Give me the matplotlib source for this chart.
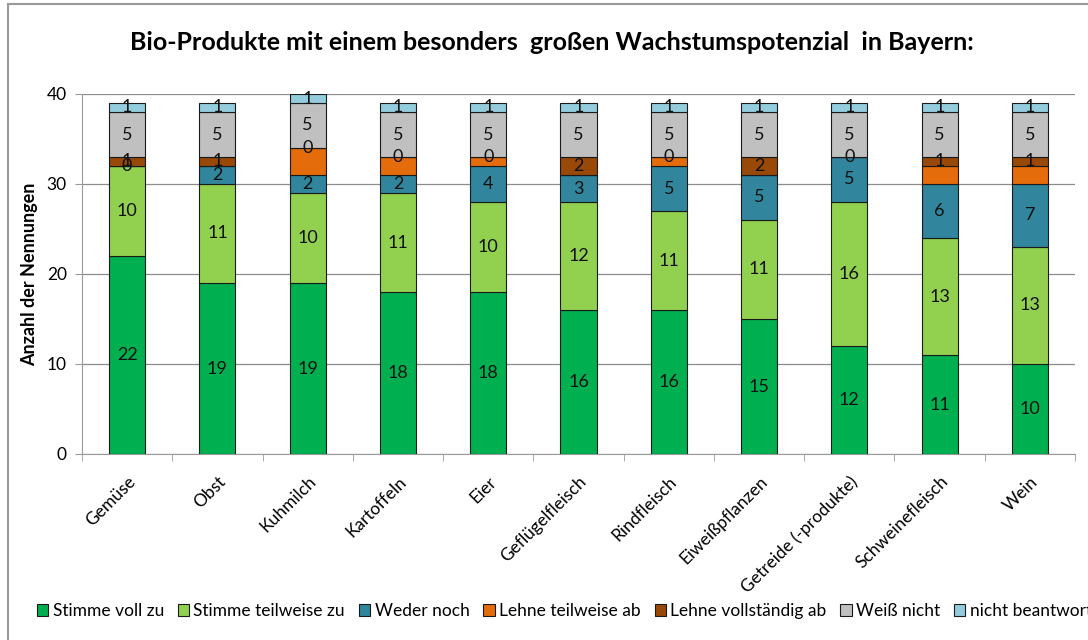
import matplotlib
matplotlib.use("Agg")
import matplotlib.pyplot as plt
from matplotlib.patches import Rectangle
import numpy as np

plt.rcParams['font.family'] = ['Lato', 'DejaVu Sans']

# Data
products = ["Gemüse", "Obst", "Kuhmilch", "Kartoffeln", "Eier", "Geflügelfleisch",
            "Rindfleisch", "Eiweißpflanzen", "Getreide (-produkte)", "Schweinefleisch", "Wein"]
series_names = ["Stimme voll zu", "Stimme teilweise zu", "Weder noch", "Lehne teilweise ab",
                "Lehne vollständig ab", "Weiß nicht", "nicht beantworte"]
voll_zu = [22, 19, 19, 18, 18, 16, 16, 15, 12, 11, 10]
teilweise_zu = [10, 11, 10, 11, 10, 12, 11, 11, 16, 13, 13]
weder_noch = [0, 2, 2, 2, 4, 3, 5, 5, 5, 6, 7]
teilweise_ab = [0, 0, 3, 2, 1, 0, 1, 0, 0, 2, 2]
vollstaendig_ab = [1, 1, 0, 0, 0, 2, 0, 2, 0, 1, 1]
weiss_nicht = [5, 5, 5, 5, 5, 5, 5, 5, 5, 5, 5]
nicht_beantw = [1, 1, 1, 1, 1, 1, 1, 1, 1, 1, 1]

colors = ["#00B050", "#92D050", "#31859C", "#E46C0A", "#984807", "#C0C0C0", "#93CDDD"]
show_labels = [True, True, True, False, True, True, True]

all_series = [voll_zu, teilweise_zu, weder_noch, teilweise_ab, vollstaendig_ab, weiss_nicht, nicht_beantw]

fig = plt.figure(figsize=(10.88, 6.4), dpi=100)
ax = fig.add_axes([82 / 1088, 1 - 454 / 640, (1075 - 82) / 1088, 360 / 640])

x = np.arange(len(products))
bottom = np.zeros(len(products))
for vals, name, col, lab in zip(all_series, series_names, colors, show_labels):
    vals = np.array(vals, dtype=float)
    ax.bar(x, vals, 0.4, bottom=bottom, color=col, edgecolor="#1a1a1a",
           linewidth=0.8, label=name, zorder=3)
    if lab:
        for xi, v, b in zip(x, vals, bottom):
            ax.text(xi, b + v / 2, f"{int(v)}", ha="center", va="center",
                    fontsize=13, color="#111111", zorder=4)
    bottom += vals

ax.set_xlim(-0.5, len(products) - 0.5)
ax.set_ylim(0, 40)
ax.set_yticks([0, 10, 20, 30, 40])
ax.yaxis.grid(True, color="#8c8c8c", linewidth=0.9, zorder=0)
ax.set_axisbelow(True)
for s in ["top", "right"]:
    ax.spines[s].set_visible(False)
ax.spines["left"].set_color("#9a9a9a")
ax.spines["bottom"].set_color("#9a9a9a")
ax.tick_params(axis="y", length=5, color="#9a9a9a", labelsize=12.5, pad=6)
ax.set_xticks(x)
ax.set_xticklabels(products, rotation=45, ha="right", rotation_mode="anchor", fontsize=12.5)
ax.set_xticks(np.arange(-0.5, len(products)), minor=True)
ax.tick_params(axis="x", which="major", length=0, pad=14)
ax.tick_params(axis="x", which="minor", length=5, color="#9a9a9a")
ax.set_ylabel("Anzahl der Nennungen", fontsize=13, fontweight="bold", labelpad=6)

fig.text(552 / 1088, 1 - 42 / 640, "Bio-Produkte mit einem besonders  großen Wachstumspotenzial  in Bayern:",
         ha="center", va="center", fontsize=18, fontweight="bold")

fig.legend(loc="center left", bbox_to_anchor=(30 / 1088, 1 - 611 / 640), ncol=7, frameon=False,
           fontsize=12.5, handlelength=0.65, handleheight=0.65, handletextpad=0.25, columnspacing=0.8,
           borderaxespad=0)

fig.patches.append(Rectangle((8 / 1088, -0.1), 1.2, 1 - 4 / 640 + 0.1, transform=fig.transFigure,
                             fill=False, edgecolor="#9a9a9a", linewidth=1.5))

fig.savefig("out.png", dpi=100)
